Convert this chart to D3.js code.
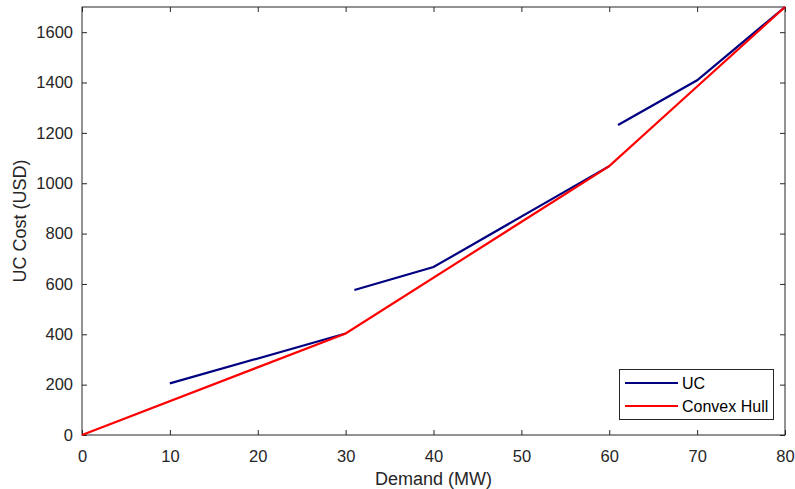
<!DOCTYPE html>
<html><head><meta charset="utf-8">
<script src="https://cdn.jsdelivr.net/npm/d3@7"></script>
<style>body{margin:0;background:#fff}svg{display:block}text{font-family:"Liberation Sans",Arial,sans-serif}</style>
</head><body>
<script>
// Data
const ucSeg1X = [10, 30];
const ucSeg1Y = [205, 403];
const ucSeg2X = [31, 40, 60];
const ucSeg2Y = [576, 667, 1068];
const ucSeg3X = [61, 70, 80];
const ucSeg3Y = [1231, 1409, 1700];
const hullX = [0, 30, 60, 70, 80];
const hullY = [0, 403, 1068, 1384, 1700];
const xTicks = [0, 10, 20, 30, 40, 50, 60, 70, 80];
const yTicks = [0, 200, 400, 600, 800, 1000, 1200, 1400, 1600];
const seriesNames = ["UC", "Convex Hull"];
const seriesColors = ["#000080", "#ff0000"];

const W = 795, H = 489;
const m = {left: 82, right: 10, top: 7, bottom: 54};
const svg = d3.select("body").append("svg").attr("width", W).attr("height", H);
const x = d3.scaleLinear().domain([0, 80]).range([m.left, W - m.right]);
const y = d3.scaleLinear().domain([0, 1700]).range([H - m.bottom, m.top]);
const axCol = "#262626";
const fmt = d3.format("d");

const g = svg.append("g");
g.append("rect").attr("x", m.left).attr("y", m.top).attr("width", W - m.right - m.left).attr("height", H - m.bottom - m.top)
  .attr("fill", "none").attr("stroke", axCol).attr("stroke-width", 1);

function styleAxis(sel) {
  sel.select(".domain").remove();
  sel.selectAll(".tick line").attr("stroke", axCol);
  sel.selectAll(".tick text").attr("fill", axCol).attr("font-size", 16.5);
}
svg.append("g").attr("transform", `translate(0,${H - m.bottom})`)
  .call(d3.axisBottom(x).tickValues(xTicks).tickSize(-5).tickPadding(15).tickFormat(fmt))
  .call(styleAxis);
svg.append("g").attr("transform", `translate(0,${m.top})`)
  .call(d3.axisTop(x).tickValues(xTicks).tickSize(-5).tickFormat(""))
  .call(styleAxis);
svg.append("g").attr("transform", `translate(${m.left},0)`)
  .call(d3.axisLeft(y).tickValues(yTicks).tickSize(-5).tickPadding(9).tickFormat(fmt))
  .call(styleAxis);
svg.append("g").attr("transform", `translate(${W - m.right},0)`)
  .call(d3.axisRight(y).tickValues(yTicks).tickSize(-5).tickFormat(""))
  .call(styleAxis);

const line = d3.line().x(d => x(d[0])).y(d => y(d[1]));
const plot = svg.append("g");
[[ucSeg1X, ucSeg1Y], [ucSeg2X, ucSeg2Y], [ucSeg3X, ucSeg3Y]].forEach(([xs, ys]) => {
  plot.append("path").datum(xs.map((v, i) => [v, ys[i]])).attr("d", line)
    .attr("fill", "none").attr("stroke", seriesColors[0]).attr("stroke-width", 2.2);
});
plot.append("path").datum(hullX.map((v, i) => [v, hullY[i]])).attr("d", line)
  .attr("fill", "none").attr("stroke", seriesColors[1]).attr("stroke-width", 2.2);

// axis labels
svg.append("text").attr("x", (m.left + W - m.right) / 2).attr("y", 485).attr("text-anchor", "middle")
  .attr("font-size", 18).attr("fill", axCol).text("Demand (MW)");
svg.append("text").attr("transform", `translate(26,${(m.top + H - m.bottom) / 2}) rotate(-90)`).attr("text-anchor", "middle")
  .attr("font-size", 18).attr("fill", axCol).text("UC Cost (USD)");

// legend
const lg = svg.append("g");
lg.append("rect").attr("x", 619.5).attr("y", 369.5).attr("width", 154).attr("height", 50)
  .attr("fill", "#fff").attr("stroke", axCol).attr("stroke-width", 1);
seriesNames.forEach((n, i) => {
  const yy = 383 + i * 23;
  lg.append("line").attr("x1", 625).attr("x2", 678).attr("y1", yy).attr("y2", yy)
    .attr("stroke", seriesColors[i]).attr("stroke-width", 2.2);
  lg.append("text").attr("x", 682).attr("y", yy + 6).attr("font-size", 16).attr("fill", "#000").text(n);
});
</script>
</body></html>
